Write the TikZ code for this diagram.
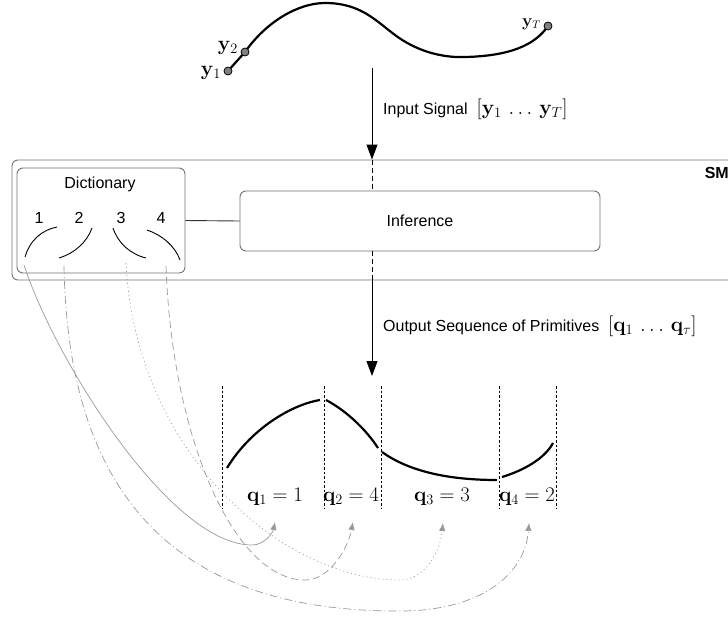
\documentclass[tikz,border=0pt]{standalone}
\usepackage[no-math]{fontspec}
\setmainfont{Liberation Sans}
\usetikzlibrary{arrows.meta}
\begin{document}
\begin{tikzpicture}[x=1pt,y=-1pt,
  txt/.style={font=\fontsize{16}{19}\selectfont, inner sep=0pt},
  mlab/.style={font=\fontsize{19.5}{23}\selectfont, inner sep=0pt},
  gbox/.style={draw=black!55, line width=0.9pt, rounded corners=6pt, fill=white},
  bigarrow/.style={line width=1pt, -{Triangle[width=11pt,length=15pt]}},
  midline/.style={line width=1pt, dash pattern=on 5pt off 3pt},
  seg/.style={line width=2.2pt},
  sep/.style={line width=0.6pt, dash pattern=on 2.5pt off 2pt},
  prim/.style={line width=0.9pt},
  link/.style={draw=black!40, line width=0.7pt, -{Latex[length=8pt,width=6.5pt]}},
  ptc/.style={circle, draw=black, fill=black!50, line width=0.8pt, minimum size=8pt, inner sep=0pt},
]
\useasboundingbox (0,0) rectangle (728,616);
\clip (0,0) rectangle (728,616);

% ---------- top signal ----------
\draw[seg] (228,71) -- (245,52)
  .. controls (266,22) and (298,3) .. (325,3)
  .. controls (360,3) and (375,20) .. (395,35)
  .. controls (415,50) and (440,58) .. (465,57)
  .. controls (510,56) and (535,45) .. (548,26);
\node[ptc] (p1) at (228,71) {};
\node[ptc] (p2) at (245,52) {};
\node[ptc] (pT) at (548,26) {};
\node[mlab, anchor=east] (l1) at (221,73) {$\mathbf{y}_1$};
\node[mlab, anchor=east] (l2) at (238,48) {$\mathbf{y}_2$};
\node[mlab, anchor=east, font=\fontsize{16}{19}\selectfont] (lT) at (541,24) {$\mathbf{y}_T$};

% ---------- SM box ----------
\node[gbox, minimum width=740pt, minimum height=120pt] (sm) at (382,220) {};
\node[txt, anchor=north east, font=\fontsize{16}{19}\selectfont\bfseries] (smlab) at (729,167) {SM};

\node[gbox, minimum width=168pt, minimum height=105pt] (dict) at (101,220.5) {};
\node[txt] (dictlab) at (100,184) {Dictionary};
\node[txt] (n1) at (39,218) {1};
\node[txt] (n2) at (79,218) {2};
\node[txt] (n3) at (121,218) {3};
\node[txt] (n4) at (161,218) {4};
\draw[prim] (25,257) .. controls (30,240) and (42,230) .. (57,227);
\draw[prim] (59,258) .. controls (75,253) and (87,242) .. (92,228);
\draw[prim] (113,228) .. controls (118,243) and (130,254) .. (146,258);
\draw[prim] (147,230) .. controls (162,235) and (175,246) .. (180,260);

\node[gbox, minimum width=360pt, minimum height=60pt] (inf) at (420,221) {};
\node[txt] (inflab) at (420,221) {Inference};
\draw[line width=0.9pt, black!80] (dict.east) -- (inf.west);

% ---------- arrows ----------
\coordinate (inTop) at (372,68);
\coordinate (outTip) at (372,376);
\draw[bigarrow] (inTop) -- (inTop |- sm.north);
\draw[midline] (inTop |- sm.north) -- (inTop |- inf.north);
\draw[midline] (inTop |- inf.south) -- (inTop |- sm.south);
\draw[bigarrow] (inTop |- sm.south) -- (outTip);

\node[txt, anchor=west] (inlab) at (383,109) {Input Signal \ {\fontsize{20}{24}\selectfont$\big[\mathbf{y}_1 \,\ldots\, \mathbf{y}_T\big]$}};
\node[txt, anchor=west] (outlab) at (383,326) {Output Sequence of Primitives \ {\fontsize{20}{24}\selectfont$\big[\mathbf{q}_1 \,\ldots\, \mathbf{q}_\tau\big]$}};

% ---------- output sequence ----------
\foreach \x in {222,324,381,499,556} \draw[sep] (\x,386) -- (\x,508);
\draw[seg] (227,468) .. controls (250,430) and (290,405) .. (320,400);
\draw[seg] (326,400) .. controls (345,410) and (365,428) .. (378,448);
\draw[seg] (382,452) .. controls (410,472) and (450,480) .. (497,480);
\draw[seg] (502,477) .. controls (525,470) and (545,458) .. (553,443);

\node[mlab] (q1) at (275,497) {$\mathbf{q}_1 = 1$};
\node[mlab] (q2) at (351,497) {$\mathbf{q}_2 = 4$};
\node[mlab] (q3) at (442,497) {$\mathbf{q}_3 = 3$};
\node[mlab] (q4) at (527,497) {$\mathbf{q}_4 = 2$};

% ---------- links ----------
\coordinate (s1) at (24,265);
\coordinate (s2) at (64,266);
\coordinate (s3) at (126,263);
\coordinate (s4) at (166,266);
\coordinate (t1) at (275,522);
\coordinate (t2) at (353,522);
\coordinate (t3) at (443,523);
\coordinate (t4) at (529,523);
\draw[link] (s1) .. controls (55,360) and (170,545) .. (252,545) .. controls (265,545) and (273,532) .. (t1);
\draw[link, dash pattern=on 7pt off 4pt] (s4) .. controls (172,440) and (235,580) .. (305,580) .. controls (330,580) and (348,548) .. (t2);
\draw[link, dash pattern=on 1pt off 3pt] (s3) .. controls (135,450) and (280,580) .. (400,580) .. controls (425,580) and (440,552) .. (t3);
\draw[link, dash pattern=on 8pt off 3pt on 1pt off 3pt] (s2) .. controls (68,500) and (180,612) .. (400,611) .. controls (480,611) and (525,575) .. (t4);
\end{tikzpicture}
\end{document}
